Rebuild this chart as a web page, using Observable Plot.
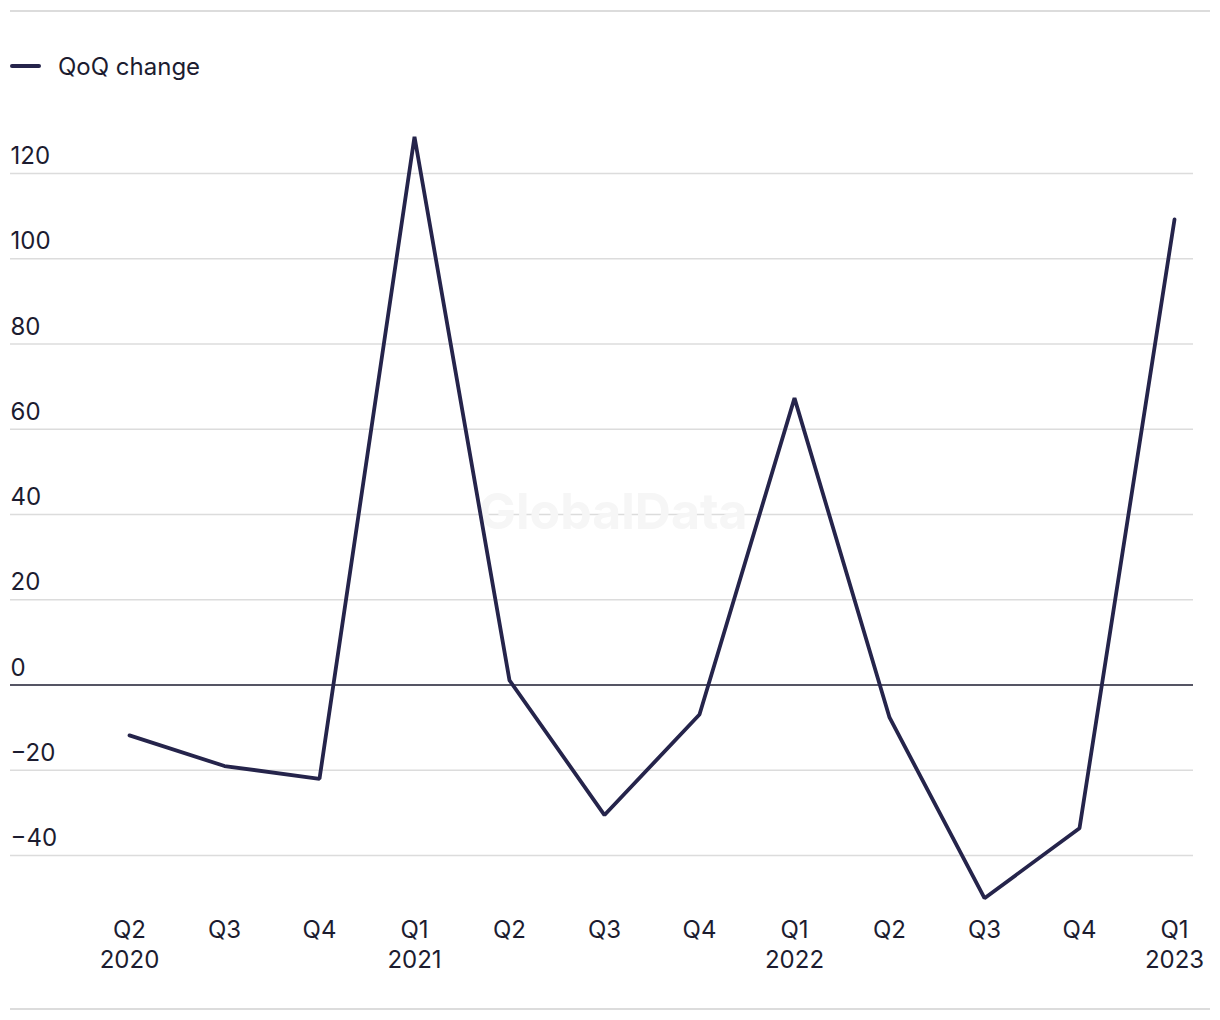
<!DOCTYPE html>
<html>
<head>
<meta charset="utf-8">
<script src="https://cdn.jsdelivr.net/npm/d3@7"></script>
<script src="https://cdn.jsdelivr.net/npm/@observablehq/plot@0.6"></script>
<style>
  html, body { margin: 0; padding: 0; background: #fff; }
  body { font-family: Inter, "Noto Sans", sans-serif; color: #1c1c30; }
  #wrap { position: relative; width: 1220px; height: 1020px; overflow: hidden; }
  .hr { position: absolute; left: 10px; width: 1200px; height: 2px; background: #dcdcdc; }
  #legend { position: absolute; left: 10px; top: 50px; display: flex; align-items: center; font-size: 24px; height: 32px; }
  #legend .sw { width: 31px; height: 4px; border-radius: 2px; background: #25244b; margin-right: 17px; }
  #chart { position: absolute; left: 0; top: 100px; }
</style>
</head>
<body>
<div id="wrap">
  <div class="hr" style="top:10px"></div>
  <div id="legend"><span class="sw"></span><span>QoQ change</span></div>
  <div id="chart"></div>
  <div class="hr" style="top:1008px"></div>
</div>
<script>
const quarters = ["Q2 2020","Q3 2020","Q4 2020","Q1 2021","Q2 2021","Q3 2021","Q4 2021","Q1 2022","Q2 2022","Q3 2022","Q4 2022","Q1 2023"];
const quarterLabels = ["Q2","Q3","Q4","Q1","Q2","Q3","Q4","Q1","Q2","Q3","Q4","Q1"];
const yearLabels = ["2020","","","2021","","","","2022","","","","2023"];
const qoqChange = [-11.8, -19.0, -22.0, 128.6, 1.1, -30.5, -6.9, 67.3, -7.6, -50.0, -33.6, 109.2];
const yTicks = [-40, -20, 0, 20, 40, 60, 80, 100, 120];

const data = quarters.map((q, i) => ({q, value: qoqChange[i], label: yearLabels[i] ? quarterLabels[i] + "\n" + yearLabels[i] : quarterLabels[i]}));
const fmt = d => d < 0 ? "\u2212" + Math.abs(d) : String(d);

const ink = "#1c1c30";
const chart = Plot.plot({
  width: 1220,
  height: 900,
  marginLeft: 10,
  marginRight: 27,
  marginTop: 9,
  marginBottom: 81,
  style: {fontFamily: "Inter, 'Noto Sans', sans-serif", fontSize: "24px", color: ink, background: "transparent"},
  x: {type: "point", domain: quarters, padding: 0, insetLeft: 117, insetRight: 17, axis: null},
  y: {domain: [-55, 135], axis: null},
  marks: [
    Plot.ruleY(yTicks.filter(d => d !== 0), {stroke: "#dcdcdc", strokeWidth: 1.5}),
    Plot.text(["GlobalData"], {frameAnchor: "middle", dx: 11, dy: -2, text: d => d, fontSize: 50, fontWeight: 700, fill: "#f6f6f6"}),
    Plot.ruleY([0], {stroke: ink, strokeWidth: 1.6}),
    Plot.text(yTicks, {y: d => d, text: fmt, frameAnchor: "left", textAnchor: "start", dy: -17, fill: ink, fontSize: 24}),
    Plot.line(data, {x: "q", y: "value", stroke: "#25244b", strokeWidth: 3.8, strokeLinejoin: "miter"}),
    Plot.text(data, {x: "q", text: "label", frameAnchor: "bottom", lineAnchor: "top", dy: -3, lineHeight: 1.25, fill: ink, fontSize: 24})
  ]
});
document.getElementById("chart").appendChild(chart);
</script>
</body>
</html>
